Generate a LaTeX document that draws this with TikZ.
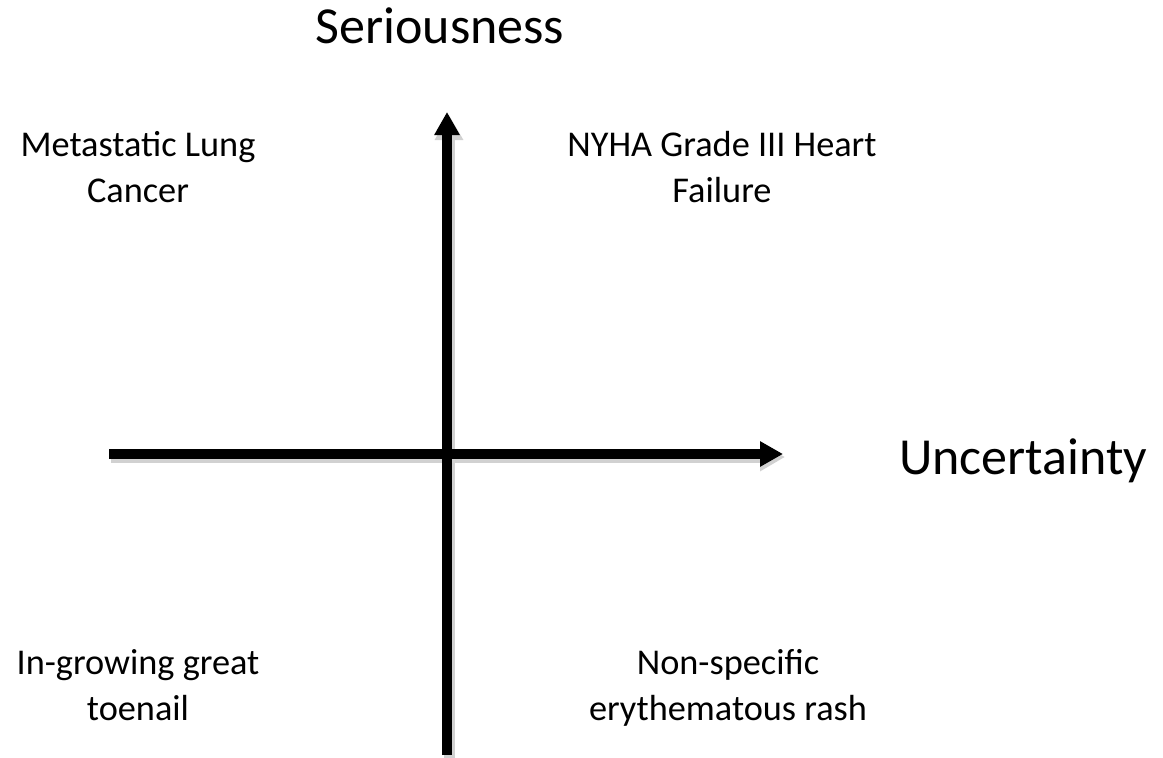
\documentclass[tikz,border=0pt]{standalone}
\usepackage{fontspec}
\setmainfont{Carlito}
\usetikzlibrary{arrows.meta}

\tikzset{
  axis/.style={line width=9.5pt, -{Triangle[length=23pt,width=24pt]}},
  axisshadow/.style={axis, draw=black!18, line width=11pt, -{Triangle[length=25pt,width=27pt]}},
  title/.style={font=\fontsize{52}{60}\selectfont, inner sep=0pt},
  quad/.style={font=\fontsize{36.3}{46}\selectfont, align=center, inner sep=0pt, anchor=base}
}

\begin{document}
\begin{tikzpicture}[x=1pt, y=-1pt]
  \useasboundingbox (0,0) rectangle (1163,758);

  % axis end points
  \coordinate (vbot) at (447,755);
  \coordinate (vtop) at (447,112);
  \coordinate (hleft) at (109,454);
  \coordinate (hright) at (783,454);

  % soft shadows under the axes
  \draw[axisshadow] ([shift={(2,3)}]vbot) -- ([shift={(2,3)}]vtop);
  \draw[axisshadow] ([shift={(2,3)}]hleft) -- ([shift={(2,3)}]hright);

  % axes
  \draw[axis] (vbot) -- (vtop);
  \draw[axis] (hleft) -- (hright);

  % axis titles
  \node[title, anchor=base] (ser) at (440,43) {Seriousness};
  \node[title, anchor=base west] (unc) at (899,474) {Uncertainty};

  % quadrant examples (anchor = baseline of the last line)
  \node[quad] (tl) at (138,202) {Metastatic Lung\\Cancer};
  \node[quad] (tr) at (722,202) {NYHA Grade III Heart\\Failure};
  \node[quad] (bl) at (138,720) {In-growing great\\toenail};
  \node[quad] (br) at (728,720) {Non-specific\\erythematous rash};
\end{tikzpicture}
\end{document}
